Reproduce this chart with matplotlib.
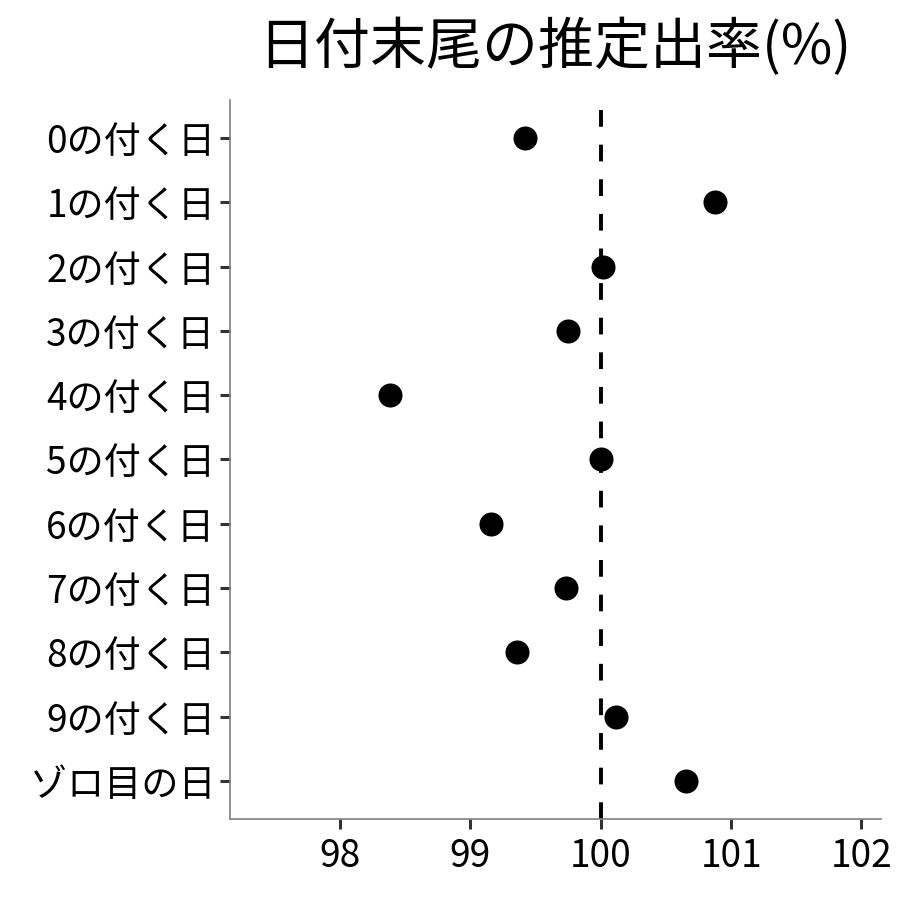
import matplotlib
matplotlib.use("Agg")
import matplotlib.pyplot as plt

plt.rcParams['font.family'] = ['Noto Sans CJK JP', 'DejaVu Sans']

# data
categories = ['0の付く日', '1の付く日', '2の付く日', '3の付く日', '4の付く日',
              '5の付く日', '6の付く日', '7の付く日', '8の付く日', '9の付く日',
              'ゾロ目の日']
rates = [99.42, 100.88, 100.02, 99.75, 98.38, 100.0, 99.16, 99.73, 99.36, 100.12, 100.65]
xticks = [98, 99, 100, 101, 102]
baseline = 100

fig = plt.figure(figsize=(9, 9), dpi=100)
ax = fig.add_axes([0.2556, 0.09, 0.7233, 0.7989])

ypos = list(range(len(categories)))
ax.axvline(baseline, color='black', lw=2.8, dashes=(4.3, 4.6), zorder=1)
ax.scatter(rates, ypos, s=300, color='black', zorder=3, linewidths=0)

ax.set_xlim(97.155, 102.15)
ax.set_ylim(len(categories) - 1 + 0.59, -0.59)
ax.set_xticks(xticks)
ax.set_xticklabels([str(t) for t in xticks])
ax.set_yticks(ypos)
ax.set_yticklabels(categories)

ax.tick_params(axis='both', labelsize=26.7, color='#333333', width=2.2, length=7,
               labelcolor='black')
ax.tick_params(axis='y', pad=3.5)
ax.tick_params(axis='x', pad=6)

for side in ['top', 'right']:
    ax.spines[side].set_visible(False)
for side in ['left', 'bottom']:
    ax.spines[side].set_color('#808080')
    ax.spines[side].set_linewidth(1.2)

fig.text(0.6167, 0.947, '日付末尾の推定出率(%)', fontsize=40.3, ha='center', va='center')

fig.savefig('out.png', dpi=100)
